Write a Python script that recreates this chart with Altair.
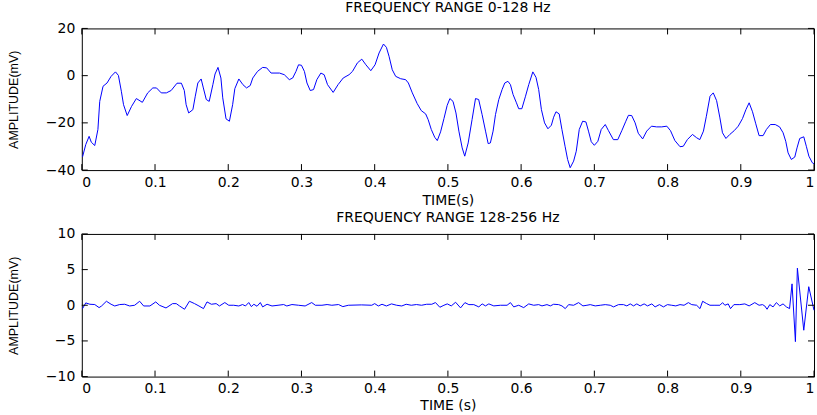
import altair as alt
import pandas as pd

# ---- data ----
t_low = [0.001, 0.0054, 0.010, 0.013, 0.0177, 0.022, 0.0245, 0.029, 0.0345, 0.040,
         0.046, 0.050, 0.054, 0.057, 0.062, 0.068, 0.0745, 0.0827, 0.090, 0.097,
         0.102, 0.1085, 0.1155, 0.122, 0.130, 0.136, 0.140, 0.1425, 0.146, 0.1517,
         0.155, 0.1585, 0.163, 0.166, 0.170, 0.174, 0.179, 0.182, 0.186, 0.190,
         0.1925, 0.197, 0.2016, 0.206, 0.209, 0.2145, 0.220, 0.225, 0.230, 0.2335,
         0.240, 0.247, 0.2525, 0.2585, 0.270, 0.2766, 0.2834, 0.288, 0.2925, 0.296,
         0.300, 0.304, 0.3075, 0.312, 0.3165, 0.321, 0.3265, 0.331, 0.3356, 0.3433,
         0.350, 0.357, 0.365, 0.3697, 0.3764, 0.3824, 0.388, 0.3947, 0.4005, 0.406,
         0.412, 0.416, 0.4196, 0.424, 0.4287, 0.4355, 0.4423, 0.446, 0.4514, 0.458,
         0.4636, 0.4696, 0.473, 0.4773, 0.482, 0.4855, 0.490, 0.4946, 0.499, 0.5027,
         0.507, 0.511, 0.515, 0.5195, 0.523, 0.5277, 0.533, 0.5377, 0.542, 0.5467,
         0.5514, 0.555, 0.558, 0.5617, 0.565, 0.5695, 0.574, 0.5777, 0.582, 0.5854,
         0.589, 0.5936, 0.5967, 0.601, 0.606, 0.6104, 0.616, 0.6203, 0.624, 0.6277,
         0.632, 0.6366, 0.6413, 0.6444, 0.6476, 0.652, 0.6557, 0.660, 0.6635, 0.667,
         0.6717, 0.6753, 0.6794, 0.684, 0.6885, 0.692, 0.6958, 0.700, 0.7048, 0.7094,
         0.7149, 0.7193, 0.726, 0.732, 0.7375, 0.743, 0.7466, 0.751, 0.7557, 0.760,
         0.766, 0.7715, 0.778, 0.785, 0.792, 0.799, 0.804, 0.810, 0.817, 0.8215,
         0.827, 0.834, 0.8397, 0.844, 0.849, 0.853, 0.858, 0.8624, 0.867, 0.8715,
         0.875, 0.8797, 0.885, 0.891, 0.8965, 0.9023, 0.907, 0.9114, 0.916, 0.9205,
         0.925, 0.9305, 0.935, 0.9405, 0.947, 0.953, 0.9578, 0.9614, 0.9646, 0.969,
         0.9737, 0.9768, 0.9805, 0.986, 0.9895, 0.993, 0.9977, 1.0]
v_low = [-34.4, -29.2, -25.7, -28.2, -29.6, -22.8, -10.9, -4.5, -3.1, -0.3,
         1.6, 0.1, -6.6, -12.3, -16.9, -13.0, -9.7, -11.3, -7.3, -5.2,
         -5.2, -7.3, -7.3, -6.3, -3.2, -3.2, -6.3, -12.3, -15.8, -14.4,
         -8.7, -3.1, -1.4, -5.2, -10.1, -10.9, -3.8, 0.7, 3.5, -1.0,
         -9.4, -18.3, -19.3, -12.3, -5.5, -1.4, -3.8, -5.2, -4.2, -1.0,
         1.8, 3.5, 3.3, 1.1, 1.1, 0.4, -1.7, -1.0, 1.8, 4.6,
         4.4, 1.8, -3.1, -6.3, -5.9, -1.7, 1.1, 0.4, -3.8, -7.1,
         -3.8, -1.0, 0.4, 1.8, 5.4, 7.0, 4.6, 2.1, 4.6, 9.6,
         13.4, 12.0, 8.2, 2.5, -0.3, -1.3, -1.7, -3.1, -7.3, -11.8,
         -14.8, -16.2, -18.6, -22.8, -26.1, -27.5, -23.8, -18.2, -12.6, -9.7,
         -10.9, -15.8, -23.5, -30.6, -34.1, -28.5, -18.6, -9.7, -10.1, -16.5,
         -23.5, -28.8, -28.5, -23.5, -16.5, -10.1, -5.9, -3.1, -2.4, -3.8,
         -8.0, -11.5, -14.0, -14.0, -8.7, -3.8, 1.6, -0.7, -5.9, -14.4,
         -20.0, -22.5, -21.0, -17.6, -15.3, -16.2, -22.8, -29.9, -35.5, -39.0,
         -36.2, -32.0, -22.8, -19.3, -19.6, -23.5, -28.0, -29.5, -27.8, -22.8,
         -20.7, -23.3, -27.1, -27.1, -23.3, -19.3, -16.8, -16.9, -20.0, -24.4,
         -26.8, -23.5, -21.4, -21.7, -21.7, -21.4, -23.3, -27.5, -30.1, -29.9,
         -27.1, -24.9, -26.3, -27.1, -23.5, -17.2, -8.7, -7.3, -10.6, -17.9,
         -24.2, -26.6, -24.9, -23.3, -21.4, -18.2, -14.4, -11.5, -15.3, -20.4,
         -25.4, -25.4, -22.8, -20.7, -20.7, -21.7, -24.2, -27.8, -32.7, -35.5,
         -34.5, -30.6, -26.6, -25.9, -29.9, -34.1, -36.9, -37.3]

t_high = [0.001, 0.0054, 0.011, 0.0177, 0.0236, 0.027, 0.0336, 0.040, 0.045, 0.0518,
          0.0586, 0.0654, 0.0722, 0.079, 0.0845, 0.093, 0.101, 0.106, 0.115, 0.124,
          0.129, 0.1335, 0.1403, 0.147, 0.154, 0.160, 0.1662, 0.171, 0.177, 0.1835,
          0.188, 0.1953, 0.2007, 0.2075, 0.2144, 0.2196, 0.2235, 0.228, 0.2316, 0.235,
          0.2393, 0.2438, 0.247, 0.253, 0.2598, 0.268, 0.2757, 0.280, 0.287, 0.296,
          0.305, 0.314, 0.319, 0.328, 0.335, 0.3415, 0.3506, 0.3565, 0.364, 0.382,
          0.396, 0.400, 0.405, 0.410, 0.416, 0.423, 0.430, 0.437, 0.443, 0.450,
          0.457, 0.464, 0.471, 0.478, 0.483, 0.489, 0.4946, 0.4991, 0.5046, 0.5105,
          0.5173, 0.5232, 0.5286, 0.5354, 0.5422, 0.5468, 0.5513, 0.5559, 0.5627, 0.5717,
          0.5808, 0.5854, 0.5899, 0.5967, 0.6035, 0.6104, 0.6172, 0.624, 0.6285, 0.6353,
          0.6399, 0.6444, 0.6512, 0.6558, 0.6603, 0.6649, 0.6717, 0.6785, 0.6844, 0.6899,
          0.6944, 0.7012, 0.7081, 0.7149, 0.7217, 0.7262, 0.733, 0.7398, 0.7444, 0.749,
          0.7535, 0.758, 0.7626, 0.768, 0.7726, 0.7785, 0.783, 0.7889, 0.7944, 0.7998,
          0.8057, 0.8112, 0.817, 0.8225, 0.8284, 0.833, 0.8397, 0.8443, 0.8479, 0.8534,
          0.8579, 0.8647, 0.8715, 0.8751, 0.8783, 0.8828, 0.886, 0.8906, 0.8987, 0.9055,
          0.9114, 0.9191, 0.925, 0.9296, 0.9327, 0.9359, 0.9396, 0.9441, 0.9486, 0.9532,
          0.9577, 0.9623, 0.9666, 0.970, 0.9746, 0.9773, 0.986, 0.9928, 1.0]
v_high = [-0.47, 0.33, 0.14, 0.10, -0.33, -0.10, 0.56, 0.14, -0.10, 0.10,
          0.14, -0.10, 0.0, 0.56, -0.10, -0.10, 0.47, 0.0, -0.38, 0.23,
          0.23, -0.10, -0.56, 0.56, 0.23, -0.10, -0.47, 0.47, 0.14, 0.23,
          -0.10, 0.38, 0.0, 0.0, -0.10, 0.10, -0.10, 0.38, -0.19, 0.14,
          -0.14, 0.38, -0.23, 0.14, -0.10, 0.0, 0.10, -0.10, 0.10, 0.0,
          -0.10, 0.38, 0.0, 0.0, 0.10, 0.0, 0.10, -0.19, 0.0, 0.05,
          0.0, 0.23, -0.10, 0.14, -0.10, 0.19, 0.0, -0.10, 0.14, 0.0,
          0.10, 0.0, 0.14, 0.14, 0.38, -0.28, 0.0, 0.19, -0.09, 0.42,
          -0.37, 0.37, 0.09, 0.09, -0.23, 0.19, -0.09, 0.19, -0.09, 0.0,
          0.0, 0.37, -0.23, 0.0, -0.33, 0.19, 0.0, 0.09, -0.09, 0.09,
          -0.09, 0.14, 0.09, -0.09, -0.47, 0.09, 0.0, 0.37, -0.09, 0.0,
          0.09, -0.09, 0.0, 0.09, 0.0, -0.23, 0.09, 0.09, -0.09, 0.19,
          -0.09, 0.19, -0.09, 0.19, -0.09, 0.19, -0.23, 0.09, -0.23, 0.09,
          0.0, -0.09, 0.09, 0.0, 0.37, 0.09, 0.0, -0.47, 0.56, 0.23,
          0.0, 0.0, 0.0, 0.37, 0.0, 0.19, -0.47, 0.09, 0.09, 0.19,
          -0.09, 0.37, 0.0, 0.09, -0.09, -0.56, 0.09, -0.23, 0.37, -0.09,
          0.19, -0.23, -0.47, 3.0, -5.1, 5.2, -3.5, 2.6, -0.7]

x_ticks = [0, 0.1, 0.2, 0.3, 0.4, 0.5, 0.6, 0.7, 0.8, 0.9, 1.0]
y_ticks_low = [-40, -20, 0, 20]
y_ticks_high = [-10, -5, 0, 5, 10]

titles = ["FREQUENCY RANGE 0-128 Hz", "FREQUENCY RANGE 128-256 Hz"]
x_titles = ["TIME(s)", "TIME (s)"]
y_title = "AMPLITUDE(mV)"

W = 734
LABEL_FONT = "DejaVu Sans"
TITLE_FONT = "DejaVu Sans"


def panel(t, v, yticks, title, xtitle, H, xt_y, title_offset):
    df = pd.DataFrame({"t": t, "v": v})
    xs = alt.Scale(domain=[0, 1], nice=False, zero=False)
    ys = alt.Scale(domain=[yticks[0], yticks[-1]], nice=False, zero=False)
    xaxis = alt.Axis(
        values=x_ticks, format="~r", ticks=False, grid=False, domain=False,
        labelPadding=5, labelFontSize=14, labelFont=LABEL_FONT, labelColor="black",
        title=xtitle, titleFont=TITLE_FONT, titleFontSize=14, titleFontWeight="normal",
        titleColor="black", titleX=W / 2, titleY=xt_y, titleBaseline="middle",
        titleAlign="center")
    yaxis = alt.Axis(
        values=yticks, format="~r", ticks=False, grid=False, domain=False,
        labelPadding=7, labelFontSize=14, labelFont=LABEL_FONT, labelColor="black",
        title=y_title, titleFont="Liberation Sans", titleFontSize=12.5,
        titleFontWeight="normal", titleColor="black", titleX=-68, titleY=H / 2,
        titleAngle=270, titleAlign="center", titleBaseline="middle")
    X = alt.X("t:Q", scale=xs, axis=xaxis)
    Y = alt.Y("v:Q", scale=ys, axis=yaxis)
    line = alt.Chart(df).mark_line(color="#0000FF", strokeWidth=1).encode(x=X, y=Y)
    xdf = pd.DataFrame({"t": x_ticks})
    ydf = pd.DataFrame({"v": yticks})
    xt_top = alt.Chart(xdf).mark_rule(color="black", strokeWidth=1).encode(
        x=X, y=alt.value(0), y2=alt.value(6))
    xt_bot = alt.Chart(xdf).mark_rule(color="black", strokeWidth=1).encode(
        x=X, y=alt.value(H - 6), y2=alt.value(H))
    yt_left = alt.Chart(ydf).mark_rule(color="black", strokeWidth=1).encode(
        y=Y, x=alt.value(0), x2=alt.value(6))
    yt_right = alt.Chart(ydf).mark_rule(color="black", strokeWidth=1).encode(
        y=Y, x=alt.value(W - 6), x2=alt.value(W))
    return alt.layer(line, xt_top, xt_bot, yt_left, yt_right).properties(
        width=W, height=H,
        title=alt.TitleParams(title, font=TITLE_FONT, fontSize=14, fontWeight="normal",
                              color="black", anchor="middle", offset=title_offset),
    )


top = panel(t_low, v_low, y_ticks_low, titles[0], x_titles[0], 142, 30, 6)
bottom = panel(t_high, v_high, y_ticks_high, titles[1], x_titles[1], 143, 29, 2)

chart = alt.vconcat(top, bottom, spacing=2).properties(
    padding={"left": 7, "top": 0, "right": 0, "bottom": 0},
    background="white",
).configure_view(stroke="black", strokeWidth=1)

chart.save("out.html", embed_options={"renderer": "svg", "actions": False})
